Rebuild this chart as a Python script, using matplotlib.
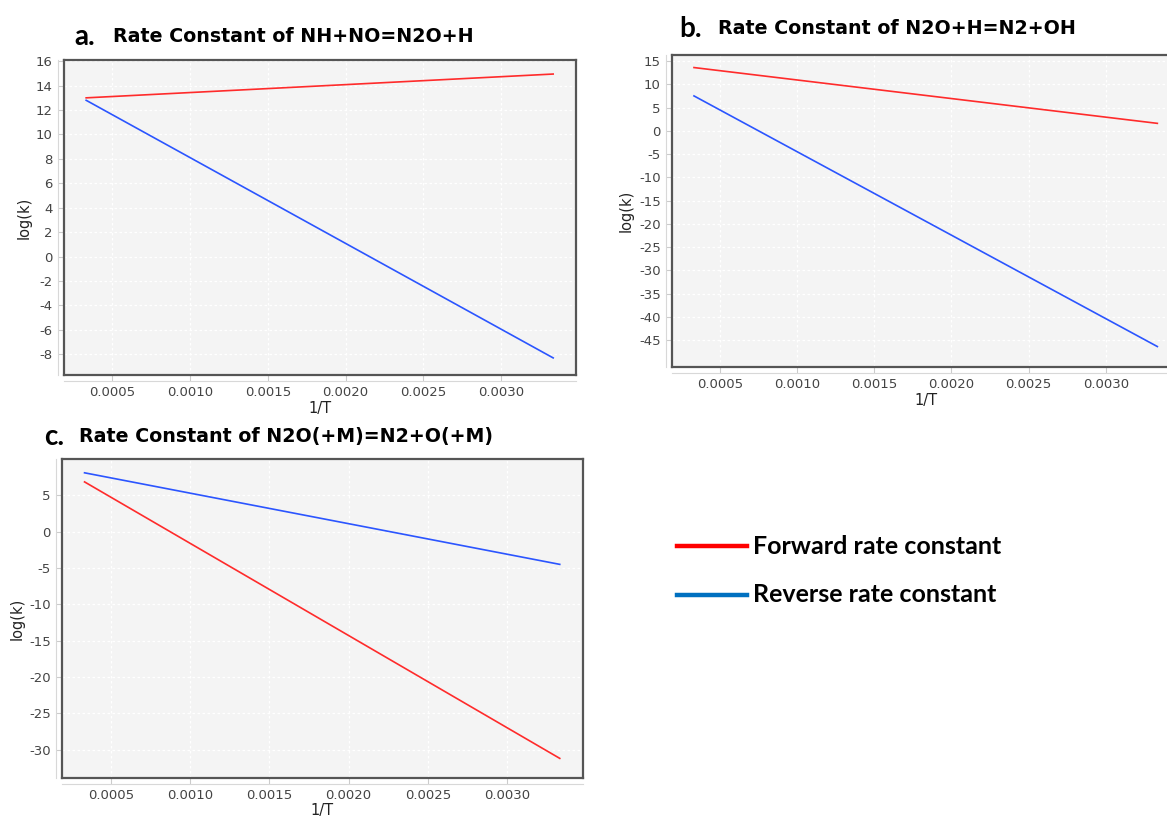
import numpy as np
import matplotlib
matplotlib.use("Agg")
import matplotlib.pyplot as plt
from matplotlib.lines import Line2D

plt.rcParams["axes.unicode_minus"] = False

# 1/T end points of the temperature sweep (300 K .. 3000 K)
inv_T = [1 / 3000, 1 / 300]

# log(k) at the two ends of the sweep
a_forward = [13.0, 14.95]
a_reverse = [12.8, -8.3]
b_forward = [13.6, 1.6]
b_reverse = [7.5, -46.4]
c_forward = [6.85, -31.2]
c_reverse = [8.1, -4.5]

x_ticks = [0.0005, 0.0010, 0.0015, 0.0020, 0.0025, 0.0030]
a_yticks = list(range(-8, 17, 2))
b_yticks = list(range(-45, 16, 5))
c_yticks = list(range(-30, 6, 5))

W, H = 1167, 817
fig = plt.figure(figsize=(W / 100, H / 100), dpi=100)

RED = "#ff2b2b"
BLUE = "#2b55ff"


def px_rect(l, t, r, b):
    return [l / W, 1 - b / H, (r - l) / W, (b - t) / H]


def rate_panel(rect, fwd, rev, yticks, ylim, ylab_x):
    l, t, r, b = rect
    ax = fig.add_axes(px_rect(*rect))
    ax.set_facecolor("#f4f4f4")
    ax.plot(inv_T, fwd, color=RED, lw=1.2)
    ax.plot(inv_T, rev, color=BLUE, lw=1.2)
    ax.set_xlim(0.000191, 0.00348)
    ax.set_ylim(*ylim)
    ax.set_xticks(x_ticks)
    ax.set_xticklabels([f"{t:.4f}" for t in x_ticks])
    ax.set_yticks(yticks)
    ax.grid(True, color="white", ls=(0, (2, 2)), lw=0.9)
    ax.set_axisbelow(True)
    for s in ax.spines.values():
        s.set_color("#555555")
        s.set_linewidth(1.6)
    ax.tick_params(colors="#cccccc", labelcolor="#444444", labelsize=9.5,
                   length=4, width=0.8, pad=4)
    # light axis lines sitting just off the frame
    ax.plot([0, 1], [-0.018, -0.018], transform=ax.transAxes, color="#d8d8d8",
            lw=0.8, clip_on=False)
    ax.plot([-0.012, -0.012], [0, 1], transform=ax.transAxes, color="#d8d8d8",
            lw=0.8, clip_on=False)
    ax.set_xlabel("1/T", fontsize=10.5, color="#222222", labelpad=1)
    ax.set_ylabel("log(k)", fontsize=10.5, color="#222222")
    ax.yaxis.set_label_coords((ylab_x - l) / (r - l), 0.5)
    return ax


rate_panel((64, 60, 576, 375), a_forward, a_reverse, a_yticks, (-9.7, 16.1), 32)
rate_panel((672, 55, 1180, 367), b_forward, b_reverse, b_yticks, (-50.8, 16.3), 634)
rate_panel((62, 459, 583, 778), c_forward, c_reverse, c_yticks, (-33.9, 10.0), 25)


def panel_title(x_letter, x_text, y, letter, text):
    fig.text(x_letter / W, 1 - y / H, letter, fontsize=20, fontweight="bold",
             family="Lato", va="center", ha="left")
    fig.text(x_text / W, 1 - y / H, text, fontsize=13.7, fontweight="bold",
             va="center", ha="left")


panel_title(74, 113, 37, "a.", "Rate Constant of NH+NO=N2O+H")
panel_title(679, 718, 29, "b.", "Rate Constant of N2O+H=N2+OH")
panel_title(44, 79, 437, "c.", "Rate Constant of N2O(+M)=N2+O(+M)")

# shared legend for the three panels
legend = [("Forward rate constant", "#ff0000", 546),
          ("Reverse rate constant", "#0070c0", 595)]
for label, color, y in legend:
    fig.add_artist(Line2D([677 / W, 747 / W], [1 - y / H, 1 - y / H],
                          color=color, lw=3.2))
    fig.text(753 / W, 1 - y / H, label, fontsize=18, fontweight="bold",
             family="Lato", va="center", ha="left")

fig.savefig("out.png", dpi=100)
